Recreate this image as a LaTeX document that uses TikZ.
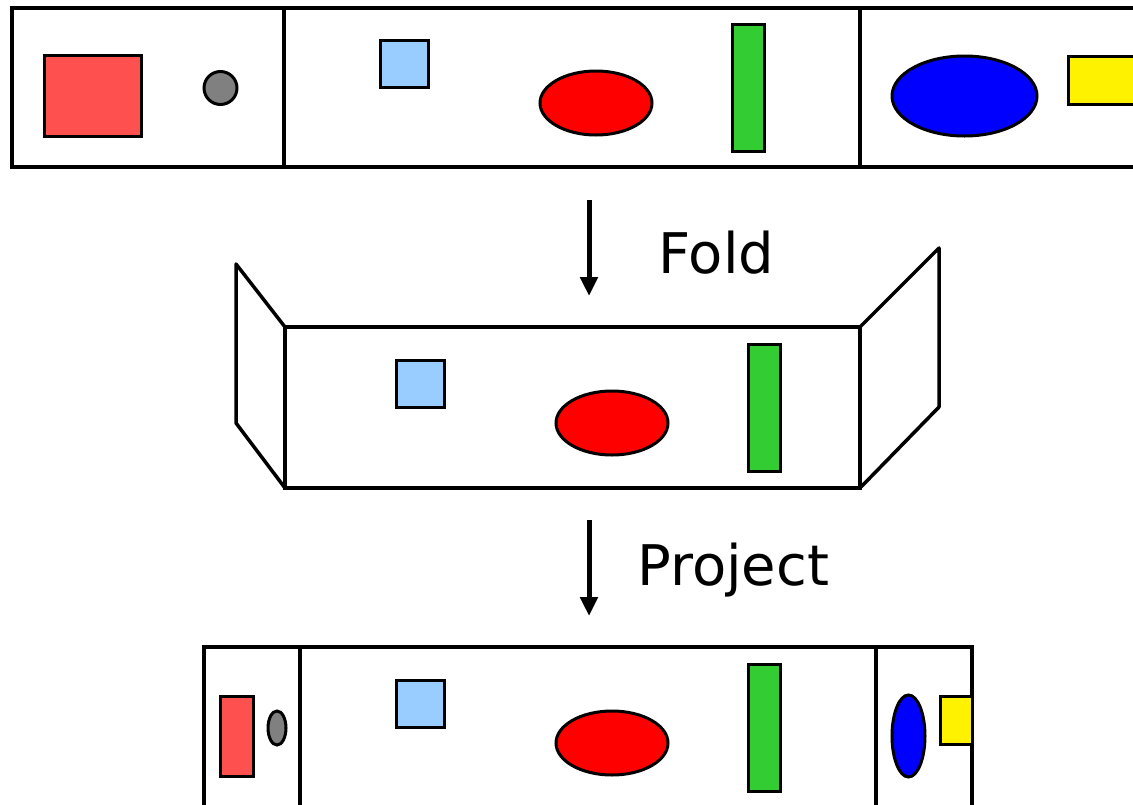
\documentclass[tikz,border=0pt]{standalone}
\usepackage{fontspec}
\setmainfont{DejaVu Sans}
\usetikzlibrary{arrows.meta}
\definecolor{boxred}{HTML}{FF5050}
\definecolor{dotgray}{HTML}{808080}
\definecolor{skyblue}{HTML}{99CCFF}
\definecolor{bargreen}{HTML}{33CC33}
\newcommand{\midshapes}[2]{
  \begin{scope}[shift={(#1,#2)}]
    \filldraw[shape line,fill=skyblue] (380,40) rectangle (428,87);   % square
    \filldraw[shape line,fill=red] (596,103) ellipse [x radius=56pt, y radius=32pt];
    \filldraw[shape line,fill=bargreen] (732,24) rectangle (764,151); % bar
  \end{scope}
}
\begin{document}
\begin{tikzpicture}[x=1pt,y=-1pt,
    panel/.style={line width=3.5pt},
    shape line/.style={line width=3pt},
    flow/.style={line width=5pt,-{Triangle[width=17pt,length=19pt]}},
    step label/.style={anchor=base west,font=\fontsize{56}{68}\selectfont}]
  \path[use as bounding box] (0,0) rectangle (1133,804);
  \clip (0,0) rectangle (1133,804);

  % flat strip
  \draw[panel] (1140,8) -- (12,8) -- (12,167) -- (1140,167);
  \draw[panel] (284,8) -- (284,167);
  \draw[panel] (860,8) -- (860,167);
  \filldraw[shape line,fill=boxred] (44,55) rectangle (141,136);
  \filldraw[shape line,fill=dotgray] (220.5,88) circle (16.5pt);
  \midshapes{0}{0};
  \filldraw[shape line,fill=blue] (964.5,96) ellipse [x radius=72.5pt, y radius=40pt];
  \filldraw[shape line,fill=yellow] (1068,56) rectangle (1140,104);

  \coordinate (fold top) at (589,200);
  \coordinate (fold tip) at (589,296);
  \draw[flow] (fold top) -- (fold tip);
  \node[step label] (fold label) at (655,273) {Fold};

  % folded strip
  \draw[panel] (285,327) rectangle (860,488);
  \draw[panel,line join=round] (285,327) -- (236,264) -- (236,423) -- (285,488);
  \draw[panel,line join=round] (860,327) -- (939,248) -- (939,407) -- (860,488);
  \midshapes{16}{320};

  \coordinate (project top) at (589,520);
  \coordinate (project tip) at (589,616);
  \draw[flow] (project top) -- (project tip);
  \node[step label] (project label) at (634,585) {Project};

  % projected strip
  \draw[panel] (204,810) -- (204,647) -- (972,647) -- (972,810);
  \draw[panel] (300,647) -- (300,810);
  \draw[panel] (876,647) -- (876,810);
  \filldraw[shape line,fill=boxred] (220,696) rectangle (253,776);
  \filldraw[shape line,fill=dotgray] (277,728) ellipse [x radius=9pt, y radius=17pt];
  \midshapes{16}{640};
  \filldraw[shape line,fill=blue] (908.5,736) ellipse [x radius=16.5pt, y radius=41pt];
  \filldraw[shape line,fill=yellow] (940,696) rectangle (972,744);
\end{tikzpicture}
\end{document}
